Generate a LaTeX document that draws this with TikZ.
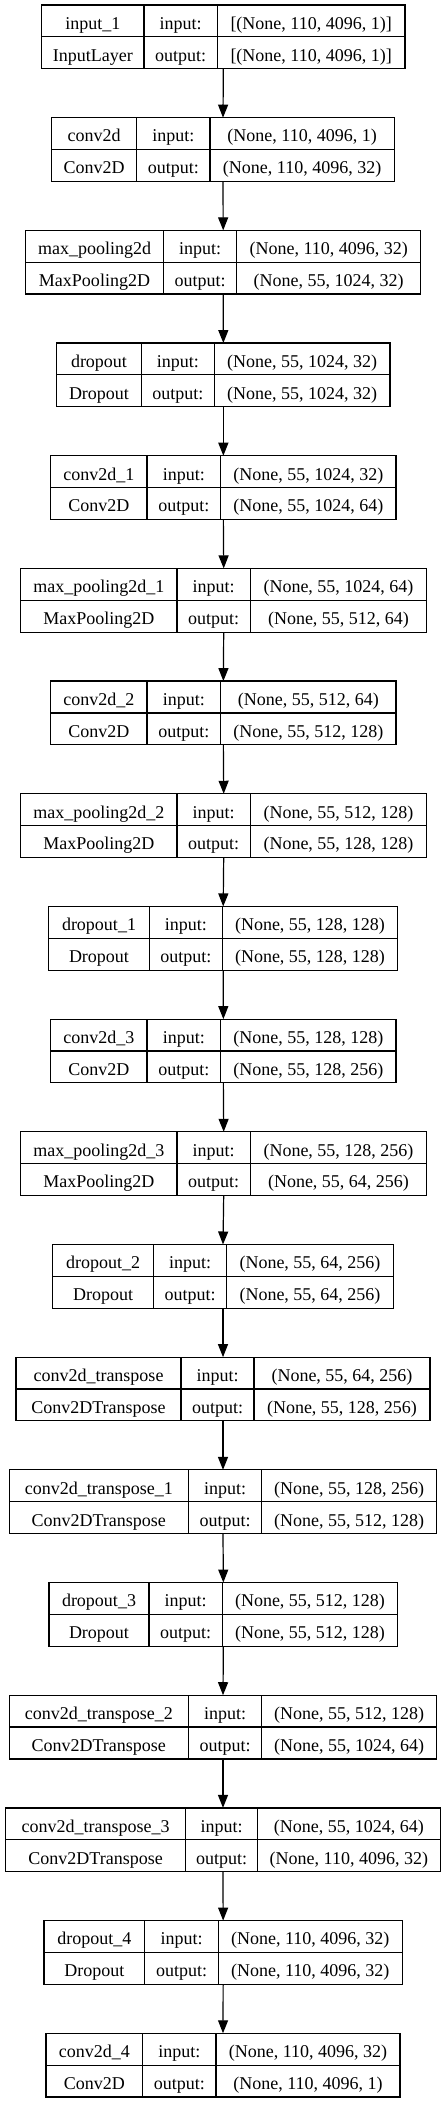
\documentclass[tikz,border=0pt]{standalone}
\usepackage{fontspec}
\setmainfont{Liberation Serif}
\usetikzlibrary{arrows.meta}
\tikzset{
  x=1pt, y=-1pt,
  layerbox/.style={draw, line width=1.2pt, inner sep=0pt, outer sep=0pt, minimum height=63.7pt, anchor=north west},
  sepline/.style={line width=1.2pt},
  celltext/.style={inner sep=0pt, anchor=base, font=\fontsize{18}{21}\selectfont},
  flow/.style={line width=1.2pt, -{Triangle[length=13pt,width=10pt]}}
}
% #1 index, #2 xL, #3 first divider, #4 second divider, #5 xR, #6 name, #7 type, #8 input, #9 output
\newcommand{\kerlayer}[9]{%
  \pgfmathsetmacro\ktop{5+112.68*#1}%
  \pgfmathsetmacro\kbot{\ktop+63.7}%
  \pgfmathsetmacro\kmid{\ktop+31.85}%
  \node[layerbox, minimum width={#5pt-#2pt}] (L#1) at (#2,\ktop) {};
  \draw[sepline] (#2,\kmid) -- (#5,\kmid);
  \draw[sepline] (#3,\ktop) -- (#3,\kbot);
  \draw[sepline] (#4,\ktop) -- (#4,\kbot);
  \node[celltext] (L#1n) at ({(#2+#3)/2},{\ktop+24.3}) {#6};
  \node[celltext] (L#1t) at ({(#2+#3)/2},{\kmid+24.3}) {#7};
  \node[celltext] (L#1i) at ({(#3+#4)/2},{\ktop+24.3}) {input:};
  \node[celltext] (L#1o) at ({(#3+#4)/2},{\kmid+24.3}) {output:};
  \node[celltext] (L#1a) at ({(#4+#5)/2},{\ktop+24.3}) {#8};
  \node[celltext] (L#1b) at ({(#4+#5)/2},{\kmid+24.3}) {#9};
}
\begin{document}
\begin{tikzpicture}
\fill[white] (0,0) rectangle (447,2103);
\useasboundingbox (0,0) rectangle (447,2103);
\kerlayer{0}{41.7}{144}{217.3}{405}{input\_1}{InputLayer}{[(None, 110, 4096, 1)]}{[(None, 110, 4096, 1)]}
\kerlayer{1}{51.7}{136.7}{210}{394.3}{conv2d}{Conv2D}{(None, 110, 4096, 1)}{(None, 110, 4096, 32)}
\kerlayer{2}{25.7}{163.3}{236.7}{420.7}{max\_pooling2d}{MaxPooling2D}{(None, 110, 4096, 32)}{(None, 55, 1024, 32)}
\kerlayer{3}{56.7}{141.3}{214.3}{390}{dropout}{Dropout}{(None, 55, 1024, 32)}{(None, 55, 1024, 32)}
\kerlayer{4}{50.7}{147}{220.7}{396}{conv2d\_1}{Conv2D}{(None, 55, 1024, 32)}{(None, 55, 1024, 64)}
\kerlayer{5}{20.7}{177}{250.3}{426.7}{max\_pooling2d\_1}{MaxPooling2D}{(None, 55, 1024, 64)}{(None, 55, 512, 64)}
\kerlayer{6}{50.7}{147}{220.7}{396}{conv2d\_2}{Conv2D}{(None, 55, 512, 64)}{(None, 55, 512, 128)}
\kerlayer{7}{20.7}{177}{250.3}{426.7}{max\_pooling2d\_2}{MaxPooling2D}{(None, 55, 512, 128)}{(None, 55, 128, 128)}
\kerlayer{8}{48.7}{149.3}{222.3}{397.7}{dropout\_1}{Dropout}{(None, 55, 128, 128)}{(None, 55, 128, 128)}
\kerlayer{9}{50.7}{147}{220.7}{396}{conv2d\_3}{Conv2D}{(None, 55, 128, 128)}{(None, 55, 128, 256)}
\kerlayer{10}{20.7}{177}{250.3}{426.7}{max\_pooling2d\_3}{MaxPooling2D}{(None, 55, 128, 256)}{(None, 55, 64, 256)}
\kerlayer{11}{52.7}{153.7}{226.7}{393.3}{dropout\_2}{Dropout}{(None, 55, 64, 256)}{(None, 55, 64, 256)}
\kerlayer{12}{16}{181}{254}{430}{conv2d\_transpose}{Conv2DTranspose}{(None, 55, 64, 256)}{(None, 55, 128, 256)}
\kerlayer{13}{9.3}{188.3}{261.7}{436.7}{conv2d\_transpose\_1}{Conv2DTranspose}{(None, 55, 128, 256)}{(None, 55, 512, 128)}
\kerlayer{14}{49}{149}{222.3}{397.7}{dropout\_3}{Dropout}{(None, 55, 512, 128)}{(None, 55, 512, 128)}
\kerlayer{15}{9.3}{188.3}{261.7}{436.7}{conv2d\_transpose\_2}{Conv2DTranspose}{(None, 55, 512, 128)}{(None, 55, 1024, 64)}
\kerlayer{16}{5.5}{185.7}{257.3}{440.5}{conv2d\_transpose\_3}{Conv2DTranspose}{(None, 55, 1024, 64)}{(None, 110, 4096, 32)}
\kerlayer{17}{44}{144.7}{218.3}{402.3}{dropout\_4}{Dropout}{(None, 110, 4096, 32)}{(None, 110, 4096, 32)}
\kerlayer{18}{46}{142.7}{216}{400}{conv2d\_4}{Conv2D}{(None, 110, 4096, 32)}{(None, 110, 4096, 1)}
\foreach \a/\b in {0/1,1/2,2/3,3/4,4/5,5/6,6/7,7/8,8/9,9/10,10/11,11/12,12/13,13/14,14/15,15/16,16/17,17/18}
  \draw[flow] (L\a.south) -- (L\b.north);
\end{tikzpicture}
\end{document}
